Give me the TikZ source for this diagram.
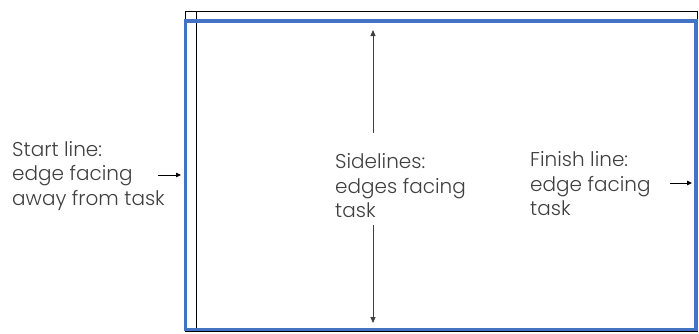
\documentclass[tikz,border=0pt]{standalone}
\usepackage{fontspec}
\setmainfont{Poppins}[UprightFont=* Light]
\usetikzlibrary{arrows.meta}
\definecolor{frameblue}{HTML}{4472C4}
\begin{document}
\begin{tikzpicture}[x=1pt,y=-1pt,
  lbl/.style={inner sep=0pt,align=left,anchor=west,font=\fontsize{20}{24.5}\selectfont,text=black!75},
  arr/.style={draw=black!75,line width=0.9pt,-{Triangle[length=6pt,width=5pt]}},
  harr/.style={draw=black,line width=0.9pt,-{Triangle[length=5pt,width=4.5pt]}}]
\useasboundingbox (0,0) rectangle (699,333);
% black frame
\draw[black,line width=0.9pt] (185,11) rectangle (697,331);
\draw[black,line width=0.9pt] (196,11) -- (196,331);
% blue frame
\draw[frameblue,line width=3.5pt] (185.5,21) rectangle (696,329.5);
% texts
\node[lbl] (start) at (12,176) {Start line:\\edge facing\\away from task};
\node[lbl] (side) at (335,186) {Sidelines:\\edges facing\\task};
\node[lbl] (finish) at (530,184) {Finish line:\\edge facing\\task};
% coordinates
\coordinate (sa1) at (158,175);
\coordinate (sa2) at (181,175);
\coordinate (fa1) at (670,183);
\coordinate (fa2) at (692,183);
\coordinate (up1) at (373,133);
\coordinate (up2) at (373,30);
\coordinate (dn1) at (373,225);
\coordinate (dn2) at (373,323);
\draw[arr] (up1) -- (up2);
\draw[arr] (dn1) -- (dn2);
\draw[harr] (sa1) -- (sa2);
\draw[harr] (fa1) -- (fa2);
\end{tikzpicture}
\end{document}
